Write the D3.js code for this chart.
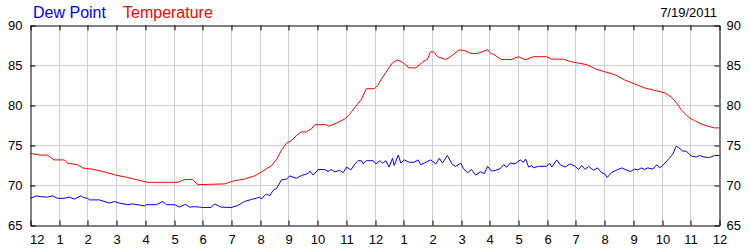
<!DOCTYPE html>
<html>
<head>
<meta charset="utf-8">
<script src="https://cdn.jsdelivr.net/npm/d3@7"></script>
<style>
  body { margin: 0; background: #fff; }
  svg { display: block; font-family: Arial, "Liberation Sans", sans-serif; }
</style>
</head>
<body>
<svg id="chart" width="750" height="250"></svg>
<script>
// hours since midnight, 7/19/2011
const tempHours = [0, 0.36, 0.59, 0.82, 1.17, 1.29, 1.64, 1.81, 2.22, 2.57, 2.97, 3.38, 3.73, 4.07,
  5.12, 5.37, 5.65, 5.82, 6.76, 7.1, 7.45, 7.8, 8.05, 8.4, 8.57, 8.74, 8.92, 9.09, 9.26, 9.44,
  9.61, 9.79, 9.9, 10.3, 10.4, 10.65, 10.94, 11.08, 11.18, 11.53, 11.7, 11.98, 12.09, 12.22,
  12.43, 12.6, 12.78, 12.96, 13.19, 13.42, 13.65, 13.83, 13.93, 14.04, 14.18, 14.46, 14.63,
  14.93, 15.1, 15.34, 15.57, 15.8, 15.92, 16.03, 16.13, 16.4, 16.75, 17, 17.23, 17.52, 17.97,
  18.15, 18.56, 18.8, 19.09, 19.38, 19.73, 20.02, 20.31, 20.45, 20.69, 21.04, 21.39, 21.73,
  22.08, 22.31, 22.49, 22.66, 22.9, 23.13, 23.36, 23.6, 23.83, 24]
const tempValues = [74.0, 73.8, 73.8, 73.2, 73.2, 72.8, 72.6, 72.2, 72.0, 71.7, 71.3, 71.0, 70.7, 70.4,
  70.4, 70.75, 70.75, 70.1, 70.2, 70.6, 70.8, 71.2, 71.7, 72.5, 73.25, 74.4, 75.3, 75.6, 76.25, 76.7,
  76.7, 77.1, 77.6, 77.6, 77.4, 77.8, 78.3, 78.75, 79.2, 80.8, 82.1, 82.1, 82.5, 83.3,
  84.4, 85.3, 85.7, 85.4, 84.7, 84.7, 85.4, 85.8, 86.7, 86.7, 86.1, 85.75, 86.1,
  86.95, 86.9, 86.5, 86.5, 86.8, 87.0, 86.5, 86.4, 85.75, 85.75, 86.1, 85.7, 86.1, 86.1,
  85.8, 85.8, 85.5, 85.3, 85.1, 84.5, 84.2, 83.9, 83.7, 83.2, 82.7, 82.2, 81.9,
  81.6, 81.1, 80.4, 79.5, 78.6, 78.1, 77.7, 77.4, 77.2, 77.2]

const dewHours = [0, 0.2, 0.35, 0.59, 0.77, 0.94, 1.17, 1.35, 1.52, 1.75, 1.85, 1.99, 2.06, 2.4,
  2.75, 2.93, 3.1, 3.39, 3.56, 3.97, 4.03, 4.38, 4.61, 4.73, 5.02, 5.19, 5.4, 5.54, 5.71, 5.89,
  6.0, 6.29, 6.41, 6.64, 6.99, 7.22, 7.45, 7.69, 7.86, 7.98, 8.04, 8.15, 8.22, 8.34, 8.45, 8.57,
  8.74, 8.92, 9.03, 9.26, 9.44, 9.67, 9.73, 9.85, 10.02, 10.25, 10.37, 10.48, 10.6, 10.77, 10.89,
  11.01, 11.16, 11.3, 11.41, 11.53, 11.59, 11.7, 11.94, 12.03, 12.17, 12.26, 12.38, 12.49, 12.61,
  12.67, 12.81, 12.9, 13.02, 13.19, 13.36, 13.5, 13.59, 13.71, 13.94, 14.12, 14.24, 14.35, 14.52,
  14.7, 14.81, 14.99, 15.08, 15.22, 15.36, 15.5, 15.67, 15.81, 15.92, 16.06, 16.2, 16.36, 16.48,
  16.59, 16.71, 16.88, 17.06, 17.17, 17.25, 17.35, 17.46, 17.52, 17.69, 17.98, 18.08, 18.16,
  18.33, 18.45, 18.62, 18.8, 18.97, 19.09, 19.2, 19.32, 19.44, 19.61, 19.75, 19.89, 19.99, 20.09,
  20.23, 20.34, 20.46, 20.6, 20.75, 20.9, 21.04, 21.16, 21.27, 21.39, 21.5, 21.68, 21.82, 21.91,
  22.02, 22.2, 22.37, 22.49, 22.57, 22.72, 22.84, 23.01, 23.19, 23.3, 23.47, 23.65, 23.83, 24]
const dewValues = [68.4, 68.7, 68.6, 68.55, 68.7, 68.4, 68.4, 68.55, 68.3, 68.7, 68.5, 68.4, 68.2, 68.2,
  67.8, 68.0, 67.8, 67.6, 67.7, 67.45, 67.6, 67.6, 68.0, 67.6, 67.6, 67.3, 67.65, 67.3, 67.35, 67.3,
  67.25, 67.25, 67.7, 67.3, 67.25, 67.5, 68.0, 68.25, 68.4, 68.55, 68.3, 68.75, 68.9, 68.75, 69.4, 69.6,
  70.7, 70.8, 71.2, 70.9, 71.25, 71.5, 71.8, 71.3, 72.0, 72.0, 71.75, 72.0, 71.7, 71.9, 71.6,
  72.3, 71.95, 72.7, 73.1, 73.1, 72.7, 73.1, 73.1, 72.7, 73.1, 72.8, 73.1, 72.3, 73.4,
  72.5, 73.8, 72.8, 73.2, 72.9, 72.9, 73.2, 72.6, 72.8, 73.2, 72.7, 73.4, 72.8, 73.75,
  72.6, 72.4, 72.8, 72.1, 71.6, 72.0, 71.3, 71.7, 71.5, 72.4, 71.8, 71.9, 72.1, 72.6,
  72.3, 72.8, 72.7, 73.2, 72.9, 73.3, 72.3, 72.5, 72.2, 72.4, 72.4, 72.8, 72.3,
  73.2, 72.6, 72.3, 72.7, 72.4, 72.0, 72.5, 72.0, 72.4, 71.9, 72.2, 71.6, 71.5, 71.0,
  71.6, 71.8, 72.0, 72.2, 71.95, 71.75, 72.05, 71.95, 72.2, 72.0, 72.2, 72.05, 72.6, 72.2,
  72.5, 73.2, 73.9, 74.9, 74.75, 74.3, 74.3, 73.7, 73.55, 73.75, 73.55, 73.5, 73.75, 73.75]

const hourTicks = d3.range(0, 25)
const yTicks = [65, 70, 75, 80, 85, 90]
const dateLabel = '7/19/2011'

const margin = { top: 25, right: 30, bottom: 25, left: 31 }
const width = 750 - margin.left - margin.right
const height = 250 - margin.top - margin.bottom

const x = d3.scaleLinear().domain([0, 24]).range([0, width])
const y = d3.scaleLinear().domain([65, 90]).range([height, 0])

const svgEl = d3.select('#chart')
const svg = svgEl.append('g')
  .attr('transform', `translate(${margin.left - 0.5},${margin.top + 0.5})`)

// grid
svg.append('g').selectAll('line').data(hourTicks.slice(1, -1)).join('line')
  .attr('x1', d => Math.round(x(d))).attr('x2', d => Math.round(x(d)))
  .attr('y1', 0).attr('y2', height)
  .attr('stroke', '#cfcfcf')
svg.append('g').selectAll('line').data(yTicks.slice(1, -1)).join('line')
  .attr('x1', 0).attr('x2', width)
  .attr('y1', d => Math.round(y(d))).attr('y2', d => Math.round(y(d)))
  .attr('stroke', '#cfcfcf')

// series
const makeLine = d3.line().x(d => x(d[0])).y(d => y(d[1]))
const series = [
  { hours: dewHours, values: dewValues, color: '#0000ff' },
  { hours: tempHours, values: tempValues, color: '#ff0000' },
]
svg.selectAll('.series').data(series).join('path')
  .attr('class', 'series')
  .attr('fill', 'none')
  .attr('stroke', d => d.color)
  .attr('stroke-width', 1)
  .attr('d', d => makeLine(d.hours.map((h, i) => [h, d.values[i]])))

// axes, ticks inward
const fmtHour = h => (h % 12) || 12
const styleAxis = (g) => {
  g.select('.domain').attr('stroke', '#000')
  g.selectAll('.tick line').attr('stroke', '#000')
  g.selectAll('text').attr('fill', '#000').attr('font-size', '13px')
    .attr('font-family', 'Arial, "Liberation Sans", sans-serif')
}
const xRound = d3.scaleLinear().domain([0, 24]).range([0, width]).interpolate(d3.interpolateRound)
const yRound = d3.scaleLinear().domain([65, 90]).range([height, 0]).interpolate(d3.interpolateRound)

svg.append('g').attr('transform', `translate(0,${height})`)
  .call(d3.axisBottom(xRound).tickValues(hourTicks).tickFormat(fmtHour).tickSizeInner(-5).tickSizeOuter(0).tickPadding(9))
  .call(styleAxis)
  .call(g => g.select('.tick text').attr('text-anchor', 'start').attr('x', -1))
svg.append('g')
  .call(d3.axisTop(xRound).tickValues(hourTicks).tickFormat('').tickSizeInner(-5).tickSizeOuter(0))
  .call(styleAxis)
svg.append('g')
  .call(d3.axisLeft(yRound).tickValues(yTicks).tickSizeInner(-5).tickSizeOuter(0).tickPadding(8))
  .call(styleAxis)
svg.append('g').attr('transform', `translate(${width},0)`)
  .call(d3.axisRight(yRound).tickValues(yTicks).tickSizeInner(-5).tickSizeOuter(0).tickPadding(7))
  .call(styleAxis)

// legend / title
svgEl.append('text').attr('x', 33).attr('y', 17.5)
  .attr('font-size', '16px').attr('fill', '#0000ff').text('Dew Point')
svgEl.append('text').attr('x', 123).attr('y', 17.5)
  .attr('font-size', '16px').attr('fill', '#ff0000').text('Temperature')
svgEl.append('text').attr('x', 717).attr('y', 17)
  .attr('text-anchor', 'end').attr('font-size', '13px').attr('fill', '#000').text(dateLabel)
</script>
</body>
</html>
